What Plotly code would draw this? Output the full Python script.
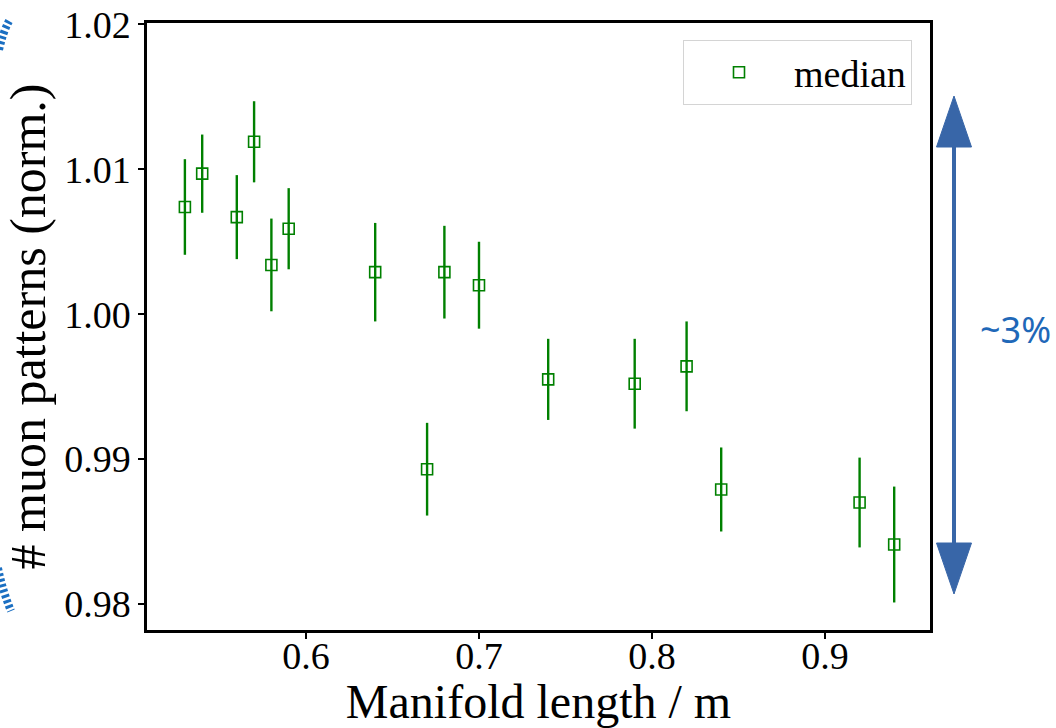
import plotly.graph_objects as go

# ---- data ----
manifold_length = [0.53, 0.54, 0.56, 0.57, 0.58, 0.59, 0.64, 0.67, 0.68, 0.70,
                   0.74, 0.79, 0.82, 0.84, 0.92, 0.94]
median = [1.0074, 1.0097, 1.0067, 1.0119, 1.0034, 1.0059, 1.0029, 0.9893, 1.0029, 1.0020,
          0.9955, 0.9952, 0.9964, 0.9879, 0.9870, 0.9841]
median_err = [0.0033, 0.0027, 0.0029, 0.0028, 0.0032, 0.0028, 0.0034, 0.0032, 0.0032, 0.0030,
              0.0028, 0.0031, 0.0031, 0.0029, 0.0031, 0.0040]

x_ticks = [0.6, 0.7, 0.8, 0.9]
y_ticks = [0.98, 0.99, 1.00, 1.01, 1.02]
x_range = [0.5081, 0.9607]
y_range = [0.9782, 1.0201]

GREEN = "#008000"
SERIF = "Liberation Serif, Times New Roman, serif"
ARROW = "#3866a8"
TEXTBLUE = "#1f68b8"
DASHBLUE = "#1b6fc2"

W, H = 1056, 728
ML, MR, MT, MB = 147, 126, 23, 98
PW, PH = W - ML - MR, H - MT - MB


def px(xp):
    return (xp - ML) / PW


def py(yp):
    return (H - MB - yp) / PH


fig = go.Figure()
fig.add_trace(go.Scatter(
    x=manifold_length, y=median, mode="markers", name="median",
    marker=dict(symbol="square-open", size=11, color=GREEN, line=dict(width=1.6, color=GREEN)),
    error_y=dict(type="data", array=median_err, visible=True, color=GREEN, thickness=2.4, width=0),
))

shapes = []
# double-headed arrow on the right
ax = px(954)
hw = 17.5 / PW
top_tip, top_base = py(96), py(147)
bot_base, bot_tip = py(543), py(594)
shapes.append(dict(type="line", xref="paper", yref="paper", x0=ax, x1=ax,
                   y0=py(140), y1=py(550), line=dict(color=ARROW, width=4)))
shapes.append(dict(type="path", xref="paper", yref="paper",
                   path=f"M {ax-hw},{top_base} L {ax+hw},{top_base} L {ax},{top_tip} Z",
                   fillcolor=ARROW, line=dict(color=ARROW, width=1)))
shapes.append(dict(type="path", xref="paper", yref="paper",
                   path=f"M {ax-hw},{bot_base} L {ax+hw},{bot_base} L {ax},{bot_tip} Z",
                   fillcolor=ARROW, line=dict(color=ARROW, width=1)))
# dashed blue arc fragments at the left edge
shapes.append(dict(type="path", xref="paper", yref="paper",
                   path=f"M {px(9)},{py(21)} Q {px(3)},{py(32)} {px(-1)},{py(50)}",
                   line=dict(color=DASHBLUE, width=8, dash="3px,2.5px")))
shapes.append(dict(type="path", xref="paper", yref="paper",
                   path=f"M {px(-2)},{py(568)} Q {px(3)},{py(592)} {px(11)},{py(611)}",
                   line=dict(color=DASHBLUE, width=8, dash="3px,2.5px")))

fig.update_layout(
    width=W, height=H,
    margin=dict(l=ML, r=MR, t=MT, b=MB, pad=0, autoexpand=False),
    paper_bgcolor="white", plot_bgcolor="white",
    font=dict(family=SERIF, size=38, color="black"),
    showlegend=True,
    legend=dict(x=px(912), y=py(40), xanchor="right", yanchor="top",
                bgcolor="rgba(255,255,255,0.8)", bordercolor="#d4d4d4", borderwidth=1,
                font=dict(family=SERIF, size=38), itemwidth=100),
    shapes=shapes,
    annotations=[dict(text="~3%", xref="paper", yref="paper", x=px(1016), y=py(329),
                      xanchor="center", yanchor="middle",
                      showarrow=False, font=dict(family="Noto Sans, Open Sans, sans-serif",
                                                 size=36, color=TEXTBLUE))],
)
fig.update_xaxes(range=x_range, tickvals=x_ticks, ticktext=[f"{v:.1f}" for v in x_ticks],
                 showgrid=False, zeroline=False, showline=True, linecolor="black", linewidth=2.5,
                 mirror=True, ticks="outside", ticklen=6, tickwidth=1.5, tickcolor="black",
                 tickfont=dict(size=38), automargin=False, ticklabelstandoff=-15,
                 title=dict(text="Manifold length / m", font=dict(size=48), standoff=27))
fig.update_yaxes(range=y_range, tickvals=y_ticks, ticktext=[f"{v:.2f}" for v in y_ticks],
                 showgrid=False, zeroline=False, showline=True, linecolor="black", linewidth=2.5,
                 mirror=True, ticks="outside", ticklen=6, tickwidth=1.5, tickcolor="black",
                 tickfont=dict(size=38), automargin=False,
                 title=dict(text="# muon patterns (norm.)", font=dict(size=50), standoff=3))

fig.write_html("out.html")
